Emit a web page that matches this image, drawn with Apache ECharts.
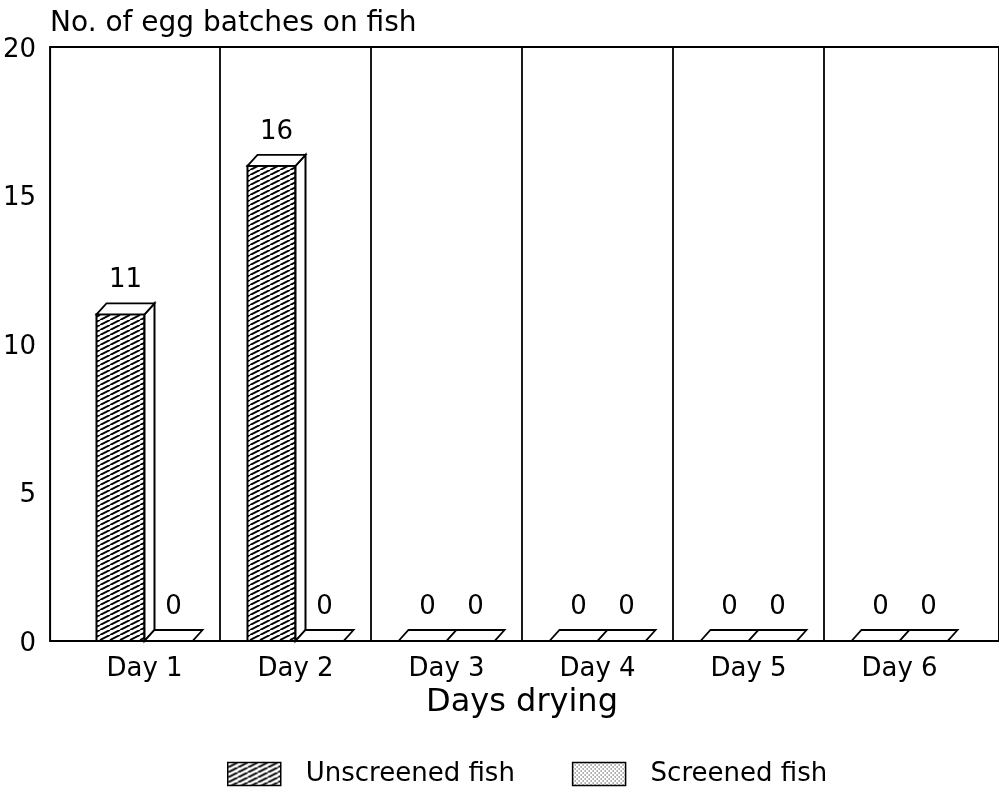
<!DOCTYPE html>
<html>
<head>
<meta charset="utf-8">
<script src="https://cdn.jsdelivr.net/npm/echarts@6/dist/echarts.min.js"></script>
<style>
html,body{margin:0;padding:0;background:#fff;}
#main{width:999px;height:796px;}
</style>
</head>
<body>
<div id="main"></div>
<script>
// data
var days = ['Day 1', 'Day 2', 'Day 3', 'Day 4', 'Day 5', 'Day 6'];
var unscreened = [11, 16, 0, 0, 0, 0];
var screened = [0, 0, 0, 0, 0, 0];
var seriesNames = ['Unscreened fish', 'Screened fish'];

var FONT = 'DejaVu Sans';

// hatch pattern (front face of unscreened)
function hatch(){
    var c = document.createElement('canvas');
    c.width = 10; c.height = 5;
    var g = c.getContext('2d');
    g.fillStyle = '#fff';
    g.fillRect(0, 0, 10, 5);
    g.strokeStyle = '#000';
    g.lineWidth = 2;
    for (var k = -1; k <= 1; k++) {
        g.beginPath();
        g.moveTo(k * 10, 5);
        g.lineTo(k * 10 + 10, 0);
        g.stroke();
    }
    return {image: c, repeat: 'repeat'};
}
// dotted pattern (screened)
function dots(){
    var c = document.createElement('canvas');
    c.width = 4; c.height = 4;
    var g = c.getContext('2d');
    g.fillStyle = '#fff';
    g.fillRect(0, 0, 4, 4);
    g.fillStyle = '#000';
    g.fillRect(0, 0, 1, 1);
    g.fillRect(2, 2, 1, 1);
    return {image: c, repeat: 'repeat'};
}
var fills = [hatch(), dots()];

// 3D bar, side 0 = left of category centre, side 1 = right
function barRenderer(side){
    return function(params, api){
        var i = api.value(0), v = api.value(1);
        var base = api.coord([i, 0]);
        var top = api.coord([i, v]);
        var w = api.size([1, 0])[0] * 0.318;
        var dx = 10, dy = 11;
        var x0 = side == 0 ? base[0] - w : base[0];
        var x1 = x0 + w;
        var ty = top[1], by = base[1];
        var children = [];
        if (by - ty > 0.5) {
            children.push({
                type: 'rect',
                shape: {x: x0, y: ty, width: w, height: by - ty},
                style: {fill: fills[side], stroke: '#000', lineWidth: 2}
            });
            children.push({
                type: 'polygon',
                shape: {points: [[x1, ty], [x1 + dx, ty - dy], [x1 + dx, by - dy], [x1, by]]},
                style: {fill: '#fff', stroke: '#000', lineWidth: 2}
            });
        }
        children.push({
            type: 'polygon',
            shape: {points: [[x0, ty], [x0 + dx, ty - dy], [x1 + dx, ty - dy], [x1, ty]]},
            style: {fill: '#fff', stroke: '#000', lineWidth: 1.8}
        });
        children.push({
            type: 'text',
            x: x0 + w / 2 + dx / 2,
            y: ty - dy - 10,
            style: {
                text: String(v), fill: '#000', font: '26px ' + FONT,
                align: 'center', verticalAlign: 'bottom'
            }
        });
        return {type: 'group', children: children};
    };
}

var myChart = echarts.init(document.getElementById('main'));
var option = {
    backgroundColor: '#fff',
    animation: false,
    textStyle: {fontFamily: FONT, color: '#000'},
    grid: [
        {left: 50, right: -2, top: 47, bottom: 155, show: true, borderColor: '#000', borderWidth: 2},
        {left: 69, right: 24, top: 47, bottom: 155}
    ],
    xAxis: [
        {gridIndex: 0, type: 'value', min: 0, max: 1, show: false},
        {
            gridIndex: 1, type: 'category', data: days,
            axisLine: {show: false}, axisTick: {show: false},
            axisLabel: {fontSize: 26, color: '#000', fontFamily: FONT, margin: 15},
            splitLine: {show: true, showMinLine: false, showMaxLine: false, lineStyle: {color: '#000', width: 1.8}},
            name: 'Days drying', nameLocation: 'middle', nameGap: 33,
            nameTextStyle: {fontSize: 32, color: '#000', fontFamily: FONT}
        }
    ],
    yAxis: [
        {
            gridIndex: 0, type: 'value', min: 0, max: 20, interval: 5,
            axisLine: {show: false}, axisTick: {show: false}, splitLine: {show: false},
            axisLabel: {fontSize: 26, color: '#000', fontFamily: FONT, margin: 14, verticalAlign: 'top', lineHeight: 6},
            name: 'No. of egg batches on fish', nameLocation: 'end', nameGap: 9,
            nameTextStyle: {fontSize: 28, color: '#000', fontFamily: FONT, align: 'left'}
        },
        {gridIndex: 1, type: 'value', min: 0, max: 20, show: false}
    ],
    legend: {
        left: 222, top: 756,
        icon: 'rect', itemWidth: 53, itemHeight: 23, itemGap: 57,
        itemStyle: {borderColor: '#000', borderWidth: 1.5},
        textStyle: {fontSize: 26, color: '#000', fontFamily: FONT, padding: [0, 0, 0, 20]},
        data: seriesNames
    },
    series: [
        {
            name: seriesNames[0], type: 'custom', xAxisIndex: 1, yAxisIndex: 1,
            itemStyle: {color: fills[0], borderColor: '#000'},
            renderItem: barRenderer(0),
            data: unscreened.map(function(v, i){ return [i, v]; })
        },
        {
            name: seriesNames[1], type: 'custom', xAxisIndex: 1, yAxisIndex: 1,
            itemStyle: {color: fills[1], borderColor: '#000'},
            renderItem: barRenderer(1),
            data: screened.map(function(v, i){ return [i, v]; })
        }
    ]
};
myChart.setOption(option);
</script>
</body>
</html>
